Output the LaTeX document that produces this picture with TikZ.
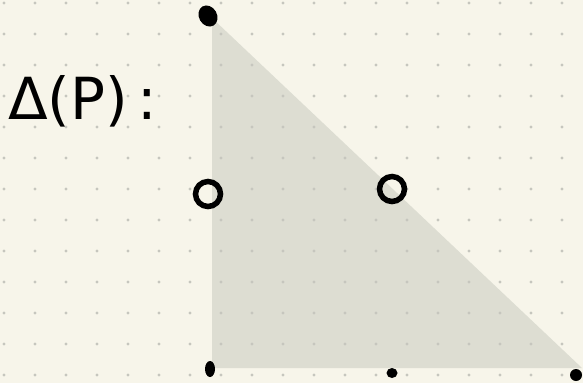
\documentclass[tikz,border=0pt]{standalone}
\usepackage{fontspec}
\newfontfamily\handfont{DejaVu Sans}
\definecolor{paper}{HTML}{F7F5EA}
\definecolor{polyfill}{HTML}{DDDDD2}
\definecolor{griddot}{HTML}{C6C6BE}
\begin{document}
\begin{tikzpicture}[x=1pt,y=-1pt]
\useasboundingbox[fill=paper] (0,0) rectangle (583,383);
\fill[polyfill] (212,18) -- (212,368) -- (582,368) -- cycle;
\foreach \i in {0,...,18}
  \foreach \j in {0,...,12}
    \fill[griddot] (4+31*\i,3+31*\j) circle (1.6);

\node[anchor=base west, inner sep=0pt] (label) at (8,119)
  {\handfont\fontsize{58}{58}\selectfont Δ(P)\,:};

\fill[black, rotate around={30:(208,16)}] (208,16) ellipse (9 and 11);
\fill[black] (210,369) ellipse (5 and 8);
\fill[black] (392,373) ellipse (5.5 and 5);
\fill[black] (576,375) ellipse (6 and 6);

\draw[black, line width=5.5] (208,194) circle (12.5);
\draw[black, line width=5.5] (392,189) circle (12.5);
\end{tikzpicture}
\end{document}
